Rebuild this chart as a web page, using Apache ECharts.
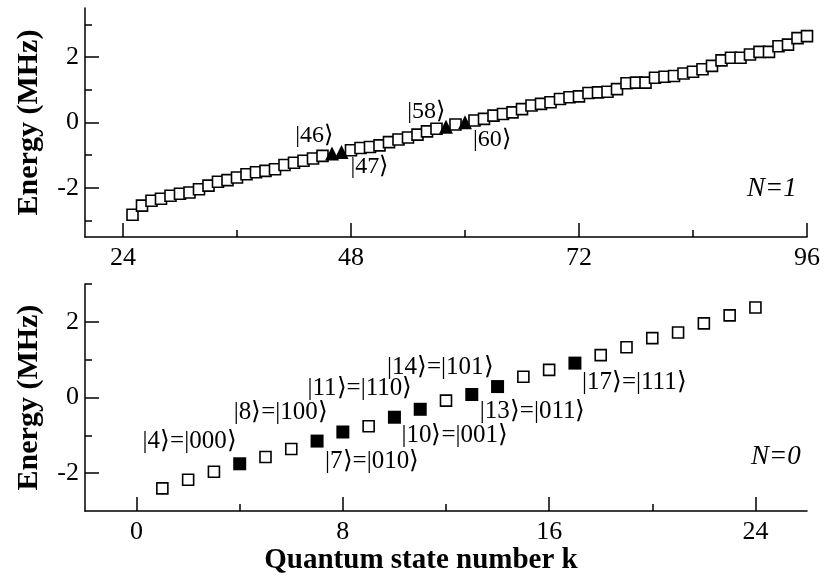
<!DOCTYPE html>
<html>
<head>
<meta charset="utf-8">
<script src="https://cdn.jsdelivr.net/npm/echarts@6/dist/echarts.min.js"></script>
<style>
html, body { margin: 0; padding: 0; background: #fff; }
#main { width: 833px; height: 576px; }
</style>
</head>
<body>
<div id="main"></div>
<script>
// N=1 manifold (upper panel)
var topK = [25, 26, 27, 28, 29, 30, 31, 32, 33, 34, 35, 36, 37, 38, 39, 40, 41, 42, 43, 44, 45, 46, 47, 48,
	49, 50, 51, 52, 53, 54, 55, 56, 57, 58, 59, 60, 61, 62, 63, 64, 65, 66, 67, 68, 69, 70, 71, 72,
	73, 74, 75, 76, 77, 78, 79, 80, 81, 82, 83, 84, 85, 86, 87, 88, 89, 90, 91, 92, 93, 94, 95, 96];
var topE = [-2.82, -2.54, -2.39, -2.33, -2.24, -2.18, -2.14, -2.04, -1.93, -1.81, -1.76, -1.68, -1.58, -1.52,
	-1.48, -1.43, -1.30, -1.23, -1.17, -1.10, -1.02, -0.95, -0.90, -0.85, -0.78, -0.75, -0.70, -0.60,
	-0.52, -0.46, -0.37, -0.27, -0.19, -0.13, -0.06, 0.01, 0.06, 0.11, 0.21, 0.26, 0.31, 0.41,
	0.52, 0.57, 0.62, 0.72, 0.77, 0.80, 0.90, 0.92, 0.94, 1.02, 1.20, 1.22, 1.22, 1.37,
	1.40, 1.42, 1.50, 1.55, 1.63, 1.73, 1.90, 1.98, 1.98, 2.08, 2.16, 2.16, 2.33, 2.38, 2.58, 2.64];
var topMarked = [46, 47, 58, 60];
var topLabels = ['|46⟩', '|47⟩', '|58⟩', '|60⟩'];

// N=0 manifold (lower panel)
var botK = [1, 2, 3, 4, 5, 6, 7, 8, 9, 10, 11, 12, 13, 14, 15, 16, 17, 18, 19, 20, 21, 22, 23, 24];
var botE = [-2.40, -2.17, -1.96, -1.75, -1.57, -1.36, -1.15, -0.91, -0.76, -0.52, -0.31, -0.08,
	0.08, 0.29, 0.55, 0.73, 0.91, 1.12, 1.33, 1.57, 1.72, 1.96, 2.17, 2.38];
var botMarked = [4, 7, 8, 10, 11, 13, 14, 17];
var botLabels = ['|4⟩=|000⟩', '|7⟩=|010⟩', '|8⟩=|100⟩', '|10⟩=|001⟩', '|11⟩=|110⟩', '|13⟩=|011⟩', '|14⟩=|101⟩', '|17⟩=|111⟩'];

// axis ticks
var topXMajor = [24, 48, 72, 96];
var topXMinor = [36, 60, 84];
var botXMajor = [0, 8, 16, 24];
var botXMinor = [4, 12, 20];
var yMajor = [-2, 0, 2];
var topYMinor = [-3, -1, 1, 3];
var botYMinor = [-1, 1, 3];

var serif = 'Liberation Serif';

// label placement next to marked states: [align, dx, dy]
var topLabelPos = {
	46: ['right', 1, -18],
	47: ['left', 9, 15],
	58: ['right', -1, -15],
	60: ['left', 8, 18]
};
var botLabelPos = {
	4: ['right', -3, -22],
	7: ['left', 8, 20],
	8: ['right', -15, -20],
	10: ['left', 7, 18],
	11: ['right', -8, -21],
	13: ['left', 8, 17],
	14: ['right', -4, -19],
	17: ['left', 7, 19]
};

function openPoints(ks, es, marked) {
	var out = [];
	for (var i = 0; i < ks.length; i++) {
		if (marked.indexOf(ks[i]) < 0) out.push([ks[i], es[i]]);
	}
	return out;
}
function markedPoints(ks, es, marked, labels, pos, size) {
	var out = [];
	for (var j = 0; j < marked.length; j++) {
		var i = ks.indexOf(marked[j]);
		var p = pos[marked[j]];
		out.push({
			value: [ks[i], es[i]],
			label: {
				show: true,
				position: 'inside',
				formatter: labels[j],
				align: p[0],
				verticalAlign: 'middle',
				offset: [p[1], p[2]],
				fontFamily: serif,
				fontSize: size,
				color: '#000'
			}
		});
	}
	return out;
}

var tickLine = { color: '#000', width: 1.5 };

function majorX(grid, min, max, ticks) {
	return {
		type: 'value', gridIndex: grid, min: min, max: max, position: 'bottom',
		axisLine: { show: true, onZero: false, lineStyle: tickLine },
		axisTick: { show: true, inside: true, length: 14, customValues: ticks, lineStyle: tickLine },
		axisLabel: { show: true, customValues: ticks, margin: 8, fontFamily: serif, fontSize: 26, color: '#000' },
		splitLine: { show: false }
	};
}
function minorX(grid, min, max, ticks) {
	return {
		type: 'value', gridIndex: grid, min: min, max: max, position: 'bottom', offset: 0,
		axisLine: { show: false, onZero: false },
		axisTick: { show: true, inside: true, length: 7, customValues: ticks, lineStyle: tickLine },
		axisLabel: { show: false },
		splitLine: { show: false }
	};
}
function majorY(grid, min, max) {
	return {
		type: 'value', gridIndex: grid, min: min, max: max, position: 'left',
		name: 'Energy (MHz)', nameLocation: 'middle', nameGap: 41,
		nameTextStyle: { fontFamily: serif, fontSize: 30, fontWeight: 'bold', color: '#000' },
		axisLine: { show: true, onZero: false, lineStyle: tickLine },
		axisTick: { show: true, inside: true, length: 14, customValues: yMajor, lineStyle: tickLine },
		axisLabel: { show: true, customValues: yMajor, margin: 6, fontFamily: serif, fontSize: 26, color: '#000' },
		splitLine: { show: false }
	};
}
function minorY(grid, min, max, ticks) {
	return {
		type: 'value', gridIndex: grid, min: min, max: max, position: 'left', offset: 0,
		axisLine: { show: false, onZero: false },
		axisTick: { show: true, inside: true, length: 7, customValues: ticks, lineStyle: tickLine },
		axisLabel: { show: false },
		splitLine: { show: false }
	};
}

var chart = echarts.init(document.getElementById('main'), null, { renderer: 'canvas' });

var botXAxis = majorX(1, -2, 26, botXMajor);
botXAxis.name = 'Quantum state number k';
botXAxis.nameLocation = 'middle';
botXAxis.nameGap = 29;
botXAxis.nameTextStyle = { fontFamily: serif, fontSize: 29, fontWeight: 'bold', color: '#000', padding: [0, 50, 0, 0] };

var option = {
	backgroundColor: '#fff',
	animation: false,
	grid: [
		{ left: 85, right: 26, top: 8, height: 229 },
		{ left: 85, right: 26, top: 284, height: 231 }
	],
	xAxis: [
		majorX(0, 20, 96, topXMajor),
		minorX(0, 20, 96, topXMinor),
		botXAxis,
		minorX(1, -2, 26, botXMinor)
	],
	yAxis: [
		majorY(0, -3.5, 3.5),
		minorY(0, -3.5, 3.5, topYMinor),
		majorY(1, -3, 3),
		minorY(1, -3, 3, botYMinor)
	],
	graphic: [
		{ type: 'text', left: 747, top: 175, style: { text: 'N=1', font: 'italic 27px "Liberation Serif"', fill: '#000' } },
		{ type: 'text', left: 751, top: 443, style: { text: 'N=0', font: 'italic 27px "Liberation Serif"', fill: '#000' } }
	],
	series: [
		{
			type: 'scatter', xAxisIndex: 0, yAxisIndex: 0,
			symbol: 'rect', symbolSize: 11,
			itemStyle: { color: '#fff', borderColor: '#000', borderWidth: 1.6, opacity: 1 },
			data: openPoints(topK, topE, topMarked)
		},
		{
			type: 'scatter', xAxisIndex: 0, yAxisIndex: 0,
			symbol: 'triangle', symbolSize: 14,
			itemStyle: { color: '#000', opacity: 1 },
			data: markedPoints(topK, topE, topMarked, topLabels, topLabelPos, 24)
		},
		{
			type: 'scatter', xAxisIndex: 2, yAxisIndex: 2,
			symbol: 'rect', symbolSize: 11,
			itemStyle: { color: '#fff', borderColor: '#000', borderWidth: 1.6, opacity: 1 },
			data: openPoints(botK, botE, botMarked)
		},
		{
			type: 'scatter', xAxisIndex: 2, yAxisIndex: 2,
			symbol: 'rect', symbolSize: 13,
			itemStyle: { color: '#000', opacity: 1 },
			data: markedPoints(botK, botE, botMarked, botLabels, botLabelPos, 25)
		}
	]
};

chart.setOption(option);

window.onresize = function() {
	chart.resize();
};
</script>
</body>
</html>
